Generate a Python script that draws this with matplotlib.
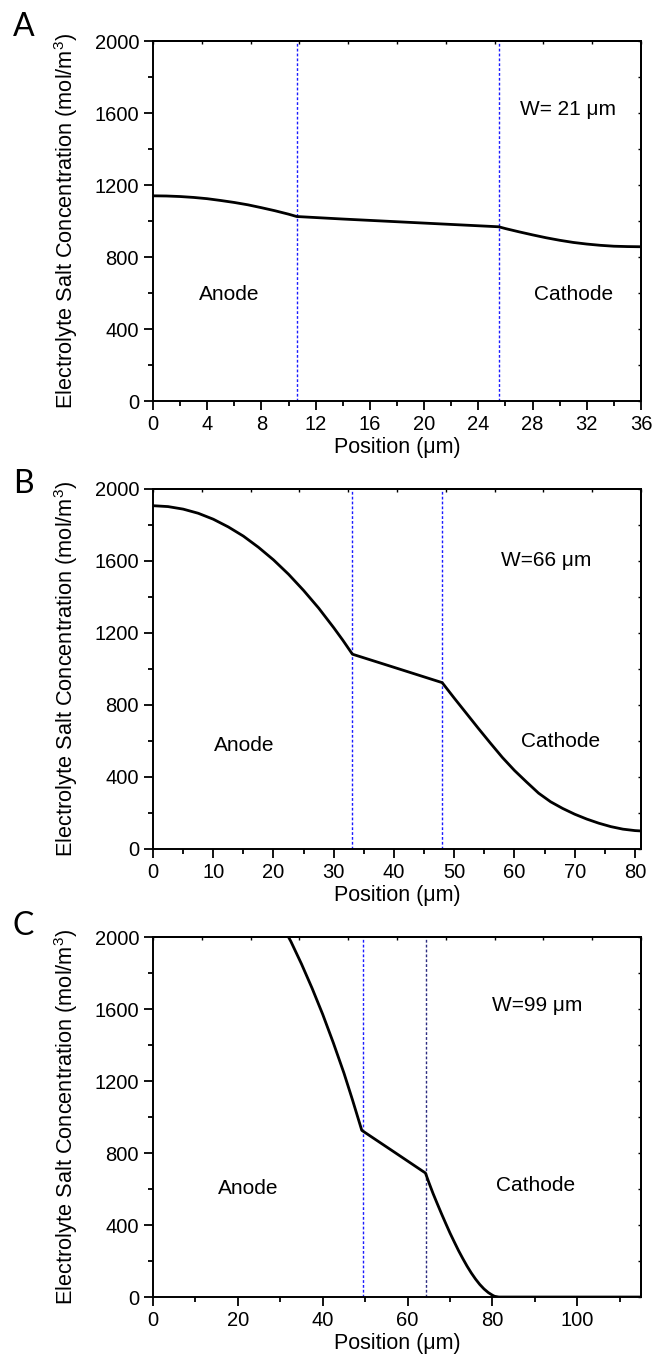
import matplotlib
matplotlib.use('Agg')
import matplotlib.pyplot as plt
import numpy as np

plt.rcParams['font.family'] = ['Liberation Sans', 'DejaVu Sans']
plt.rcParams['mathtext.fontset'] = 'custom'
plt.rcParams['mathtext.rm'] = 'Liberation Sans'
plt.rcParams['mathtext.it'] = 'Liberation Sans:italic'

# panel A, W = 21 um
pos_a = [0, 1, 2, 3, 4, 5, 6, 7, 8, 9, 10, 10.6, 14, 18, 22, 25.5, 26, 27, 28, 29, 30, 31, 32,
         33, 34, 35, 36]
conc_a = [1140, 1139, 1136, 1131, 1124, 1114, 1103, 1090, 1074, 1057, 1038, 1025, 1011, 996, 981,
          968, 958, 940, 923, 907, 893, 881, 872, 865, 860, 858, 857]
sep_a = [10.6, 25.5]

# panel B, W = 66 um
pos_b = [0, 2.5, 5, 7.5, 10, 12.5, 15, 17.5, 20, 22.5, 25, 27.5, 30, 31.5, 33.1, 40, 48, 50, 52,
         54, 56, 58, 60, 62, 64, 66, 68, 70, 72, 74, 76, 78, 80, 81]
conc_b = [1907, 1902, 1888, 1865, 1832, 1789, 1738, 1676, 1606, 1526, 1436, 1338, 1229, 1160,
          1082, 1009, 924, 838, 754, 670, 588, 508, 436, 372, 310, 262, 225, 193, 166, 143, 124,
          110, 102, 100]
sep_b = [33.1, 48.0]

# panel C, W = 99 um
pos_c = [0, 10, 20, 30, 32.5, 35, 37.5, 40, 42.5, 45, 47, 49.2, 57, 64.2, 65, 66, 67, 68, 69, 70,
         71, 72, 73, 74, 75, 76, 77, 78, 79, 80, 80.5, 81.5, 90, 100, 115]
conc_c = [2780, 2700, 2480, 2085, 1975, 1850, 1715, 1570, 1412, 1244, 1096, 926, 803, 689, 637,
          575, 518, 462, 408, 355, 306, 258, 214, 172, 134, 100, 70, 45, 25, 10, 4, 0, 0, 0, 0]
sep_c = [49.5, 64.4]

panels = [
    ('A', pos_a, conc_a, sep_a, 36, 4, 2, 'W= 21 \u03bcm', (27.1, 1617), (5.6, 594), (31.0, 594), 0.706, 5),
    ('B', pos_b, conc_b, sep_b, 81, 10, 5, 'W=66 \u03bcm', (57.7, 1600), (15.2, 574), (67.7, 596), 0.3776, -4),
    ('C', pos_c, conc_c, sep_c, 115, 20, 10, 'W=99 \u03bcm', (79.8, 1620), (22.4, 602), (90.1, 617), 0.0491, 2),
]
sep_colors = [['#1a1aff', '#1a1aff'], ['#1a1aff', '#1a1aff'], ['#1a1aff', '#2c2c80']]

fig = plt.figure(figsize=(6.55, 13.64), dpi=100)

for i, (tag, xs, ys, seps, xmax, major, minor, wtxt, wpos, apos, cpos, bot, tag_dy) in enumerate(panels):
    ax = fig.add_axes([153 / 655, bot, 488 / 655, 360 / 1364])
    for s, col in zip(seps, sep_colors[i]):
        ax.axvline(s, color=col, lw=1.0, ls=(0, (2, 1.5)), zorder=1)
    ax.plot(xs, ys, color='black', lw=2.0, zorder=3, solid_joinstyle='round')
    ax.set_xlim(0, xmax)
    ax.set_ylim(0, 2000)
    ax.set_xticks(np.arange(0, xmax + 0.01, major))
    ax.set_xticks(np.arange(0, xmax + 0.01, minor), minor=True)
    ax.set_yticks(np.arange(0, 2001, 400))
    ax.set_yticks(np.arange(0, 2001, 200), minor=True)
    ax.tick_params(which='major', direction='out', length=6.5, width=1.3, labelsize=14.5, pad=3.5)
    ax.tick_params(which='minor', direction='out', length=3.5, width=1.3)
    for sp in ax.spines.values():
        sp.set_linewidth(1.4)

    top = ax.secondary_xaxis('top')
    top.set_xticks(np.linspace(0, xmax, 11))
    top.tick_params(direction='in', length=2.5, width=1.0, labeltop=False)
    top.spines['top'].set_linewidth(1.4)
    right = ax.secondary_yaxis('right')
    right.set_yticks(np.linspace(0, 2000, 11))
    right.tick_params(direction='in', length=2.5, width=1.0, labelright=False)
    right.spines['right'].set_linewidth(1.4)

    ax.set_xlabel('Position (\u03bcm)', fontsize=15.5, labelpad=2)
    ax.set_ylabel('Electrolyte Salt Concentration (mol/m$^\\mathregular{3}$)', fontsize=15.7)
    ax.yaxis.set_label_coords(-0.15, 0.5)

    ax.text(wpos[0], wpos[1], wtxt, fontsize=15, ha='left', va='center')
    ax.text(apos[0], apos[1], 'Anode', fontsize=15, ha='center', va='center')
    ax.text(cpos[0], cpos[1], 'Cathode', fontsize=15, ha='center', va='center')

    fig.text(13 / 655, bot + (360 + tag_dy) / 1364, tag, fontsize=23, family=['Lato', 'DejaVu Sans'],
             ha='left', va='baseline')

fig.savefig('out.png', dpi=100)
